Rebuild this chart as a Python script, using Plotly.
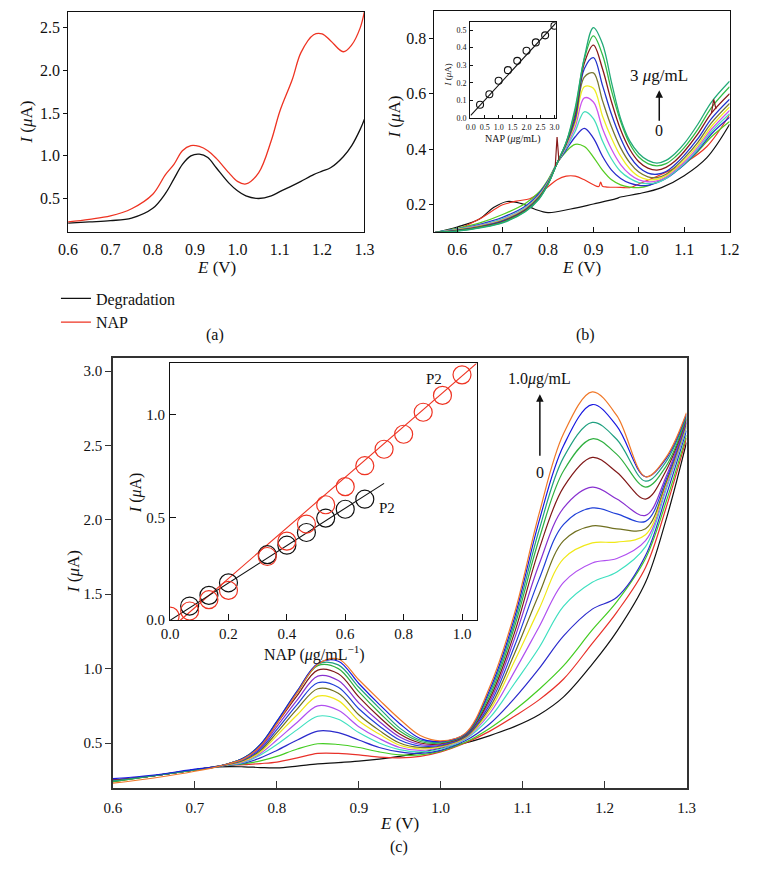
import plotly.graph_objects as go

# The page body keeps the browser's default 8 px margin, so the figure is made
# 16 px smaller than the window and every position is shifted by that margin.
WIN_W, WIN_H = 759, 872
OFF = 8
FW, FH = WIN_W - 2 * OFF, WIN_H - 2 * OFF
FONT = "Liberation Serif, Times New Roman, DejaVu Serif, serif"


def px(x):
    return (x - OFF) / FW


def py(y):
    return 1 - (y - OFF) / FH


# ---------------- Panel (a) data ----------------
E_A = [0.60, 0.65, 0.70, 0.75, 0.80, 0.83, 0.85, 0.87, 0.89, 0.91, 0.93, 0.95, 0.98, 1.00,
       1.02, 1.05, 1.08, 1.10, 1.13, 1.15, 1.18, 1.20, 1.22, 1.25, 1.27, 1.29, 1.30]
DEG_A = [0.21, 0.225, 0.24, 0.27, 0.385, 0.56, 0.73, 0.90, 1.00, 1.02, 0.98, 0.86, 0.68, 0.59,
         0.53, 0.50, 0.53, 0.58, 0.65, 0.70, 0.78, 0.82, 0.86, 0.99, 1.12, 1.31, 1.43]
NAP_A = [0.225, 0.255, 0.295, 0.38, 0.55, 0.78, 0.90, 1.06, 1.12, 1.11, 1.06, 0.97, 0.80, 0.70,
         0.67, 0.80, 1.18, 1.52, 1.90, 2.21, 2.42, 2.43, 2.35, 2.22, 2.30, 2.50, 2.69]

# ---------------- Panel (b) data ----------------
E_B = [0.55, 0.60, 0.65, 0.70, 0.75, 0.78, 0.80, 0.82, 0.84, 0.86, 0.88, 0.90, 0.92, 0.94,
       0.96, 0.98, 1.00, 1.02, 1.04, 1.06, 1.08, 1.10, 1.13, 1.16, 1.20]
B_CURVES = [
    [0.100, 0.115, 0.135, 0.165, 0.205, 0.245, 0.290, 0.350, 0.392, 0.418, 0.410, 0.372, 0.325, 0.290,
     0.272, 0.264, 0.262, 0.268, 0.282, 0.298, 0.320, 0.345, 0.392, 0.445, 0.500],
    [0.100, 0.113, 0.130, 0.155, 0.195, 0.240, 0.285, 0.350, 0.398, 0.445, 0.475, 0.440, 0.375, 0.325,
     0.295, 0.278, 0.270, 0.270, 0.280, 0.295, 0.318, 0.345, 0.395, 0.455, 0.515],
    [0.100, 0.112, 0.127, 0.150, 0.190, 0.235, 0.282, 0.350, 0.405, 0.465, 0.535, 0.510, 0.430, 0.365,
     0.320, 0.295, 0.280, 0.276, 0.280, 0.295, 0.320, 0.348, 0.400, 0.463, 0.528],
    [0.100, 0.111, 0.125, 0.147, 0.187, 0.232, 0.280, 0.350, 0.410, 0.480, 0.585, 0.570, 0.475, 0.400,
     0.345, 0.310, 0.290, 0.283, 0.286, 0.300, 0.325, 0.353, 0.407, 0.472, 0.540],
    [0.100, 0.110, 0.123, 0.145, 0.185, 0.230, 0.278, 0.350, 0.415, 0.495, 0.625, 0.620, 0.520, 0.440,
     0.375, 0.330, 0.302, 0.291, 0.292, 0.305, 0.330, 0.360, 0.415, 0.482, 0.552],
    [0.100, 0.109, 0.122, 0.143, 0.183, 0.228, 0.277, 0.350, 0.418, 0.505, 0.660, 0.675, 0.575, 0.480,
     0.405, 0.352, 0.318, 0.301, 0.298, 0.310, 0.336, 0.368, 0.425, 0.495, 0.565],
    [0.100, 0.108, 0.120, 0.141, 0.181, 0.226, 0.276, 0.350, 0.420, 0.515, 0.690, 0.730, 0.630, 0.525,
     0.440, 0.375, 0.335, 0.314, 0.310, 0.320, 0.345, 0.378, 0.438, 0.510, 0.580],
    [0.100, 0.107, 0.119, 0.139, 0.179, 0.224, 0.275, 0.350, 0.422, 0.528, 0.710, 0.775, 0.690, 0.570,
     0.470, 0.400, 0.355, 0.332, 0.325, 0.335, 0.358, 0.392, 0.455, 0.530, 0.600],
    [0.100, 0.106, 0.118, 0.137, 0.177, 0.222, 0.274, 0.350, 0.424, 0.540, 0.725, 0.808, 0.740, 0.610,
     0.500, 0.420, 0.372, 0.348, 0.340, 0.348, 0.372, 0.406, 0.472, 0.550, 0.625],
    [0.100, 0.105, 0.117, 0.135, 0.175, 0.220, 0.273, 0.350, 0.425, 0.550, 0.730, 0.838, 0.780, 0.640,
     0.510, 0.430, 0.385, 0.360, 0.350, 0.360, 0.385, 0.420, 0.490, 0.570, 0.645],
]
B_COLORS = ["#55cc22", "#2a2acc", "#44ddbb", "#cc55ee", "#eeee22", "#777733",
            "#2233cc", "#881a1a", "#33bb44", "#22aa77"]
E_B_BLACK = [0.55, 0.60, 0.65, 0.68, 0.71, 0.74, 0.77, 0.80, 0.85, 0.90, 0.95, 0.96, 1.00, 1.05,
             1.10, 1.15, 1.20]
I_B_BLACK = [0.10, 0.12, 0.15, 0.19, 0.212, 0.205, 0.185, 0.172, 0.185, 0.203, 0.222, 0.228, 0.24,
             0.262, 0.305, 0.37, 0.49]
E_B_RED = [0.55, 0.60, 0.65, 0.70, 0.73, 0.76, 0.78, 0.80, 0.82, 0.84, 0.86, 0.88, 0.90, 0.912,
           0.916, 0.92, 0.93, 0.96, 0.98, 1.00, 1.05, 1.10, 1.15, 1.20]
I_B_RED = [0.10, 0.112, 0.15, 0.20, 0.213, 0.222, 0.24, 0.265, 0.29, 0.303, 0.303, 0.29, 0.272, 0.266,
           0.282, 0.267, 0.264, 0.263, 0.262, 0.275, 0.31, 0.35, 0.41, 0.525]
SPIKE1_E = [0.816, 0.820, 0.824]
SPIKE1_I = [0.34, 0.444, 0.36]
SPIKE2_E = [1.160, 1.165, 1.170]
SPIKE2_I = [0.530, 0.580, 0.545]

INS_B_X = [0.333, 0.667, 1.0, 1.333, 1.667, 2.0, 2.333, 2.667, 3.0]
INS_B_Y = [0.075, 0.135, 0.212, 0.272, 0.325, 0.382, 0.43, 0.47, 0.525]
FIT_B_X = [0.0, 3.05]
FIT_B_Y = [0.015, 0.54]

# ---------------- Panel (c) data ----------------
E_C = [0.60, 0.65, 0.70, 0.73, 0.76, 0.78, 0.80, 0.825, 0.85, 0.875, 0.90, 0.925, 0.95, 0.975,
       1.00, 1.03, 1.06, 1.09, 1.12, 1.15, 1.185, 1.215, 1.25, 1.275, 1.30]
C_CURVES = [
    [0.25, 0.28, 0.32, 0.34, 0.34, 0.335, 0.333, 0.345, 0.36, 0.368, 0.378, 0.392, 0.41, 0.435,
     0.465, 0.50, 0.55, 0.61, 0.69, 0.81, 1.03, 1.25, 1.58, 2.00, 2.52],
    [0.245, 0.28, 0.32, 0.345, 0.355, 0.362, 0.372, 0.40, 0.43, 0.43, 0.42, 0.405, 0.40, 0.41,
     0.44, 0.50, 0.58, 0.68, 0.79, 0.93, 1.17, 1.38, 1.68, 2.08, 2.55],
    [0.245, 0.28, 0.32, 0.345, 0.36, 0.38, 0.41, 0.46, 0.495, 0.49, 0.47, 0.44, 0.42, 0.42,
     0.445, 0.505, 0.60, 0.72, 0.86, 1.02, 1.26, 1.45, 1.74, 2.12, 2.57],
    [0.25, 0.28, 0.32, 0.345, 0.365, 0.40, 0.45, 0.52, 0.58, 0.57, 0.52, 0.47, 0.44, 0.43,
     0.45, 0.515, 0.63, 0.80, 1.00, 1.22, 1.40, 1.48, 1.76, 2.16, 2.60],
    [0.245, 0.28, 0.32, 0.345, 0.37, 0.42, 0.49, 0.59, 0.68, 0.66, 0.57, 0.50, 0.455, 0.44,
     0.46, 0.525, 0.67, 0.90, 1.14, 1.42, 1.58, 1.65, 1.82, 2.20, 2.62],
    [0.245, 0.28, 0.32, 0.345, 0.375, 0.43, 0.52, 0.64, 0.75, 0.72, 0.61, 0.53, 0.47, 0.45,
     0.47, 0.53, 0.70, 0.98, 1.28, 1.58, 1.71, 1.74, 1.86, 2.22, 2.63],
    [0.24, 0.28, 0.32, 0.345, 0.38, 0.44, 0.55, 0.69, 0.815, 0.785, 0.65, 0.56, 0.485, 0.46,
     0.475, 0.535, 0.72, 1.05, 1.40, 1.74, 1.845, 1.85, 1.90, 2.24, 2.64],
    [0.24, 0.28, 0.32, 0.345, 0.385, 0.45, 0.57, 0.73, 0.865, 0.835, 0.69, 0.585, 0.50, 0.47,
     0.48, 0.54, 0.74, 1.10, 1.50, 1.86, 1.96, 1.94, 1.94, 2.25, 2.65],
    [0.25, 0.28, 0.32, 0.345, 0.39, 0.46, 0.59, 0.76, 0.905, 0.875, 0.73, 0.615, 0.52, 0.48,
     0.485, 0.545, 0.76, 1.15, 1.60, 1.97, 2.08, 2.04, 1.99, 2.27, 2.66],
    [0.25, 0.28, 0.32, 0.345, 0.395, 0.47, 0.61, 0.79, 0.95, 0.92, 0.77, 0.645, 0.54, 0.49,
     0.49, 0.55, 0.78, 1.20, 1.70, 2.08, 2.22, 2.14, 2.03, 2.29, 2.67],
    [0.25, 0.28, 0.32, 0.345, 0.40, 0.48, 0.63, 0.82, 0.99, 0.965, 0.81, 0.675, 0.56, 0.50,
     0.495, 0.55, 0.80, 1.24, 1.80, 2.22, 2.42, 2.32, 2.14, 2.33, 2.68],
    [0.24, 0.28, 0.32, 0.345, 0.40, 0.49, 0.64, 0.84, 1.02, 1.00, 0.845, 0.705, 0.58, 0.51,
     0.50, 0.555, 0.82, 1.28, 1.87, 2.33, 2.545, 2.44, 2.22, 2.36, 2.69],
    [0.245, 0.28, 0.32, 0.345, 0.40, 0.49, 0.645, 0.85, 1.03, 1.025, 0.875, 0.735, 0.60, 0.52,
     0.505, 0.56, 0.84, 1.31, 1.93, 2.42, 2.655, 2.54, 2.26, 2.39, 2.70],
    [0.26, 0.285, 0.325, 0.345, 0.40, 0.49, 0.645, 0.85, 1.035, 1.05, 0.90, 0.76, 0.63, 0.53,
     0.51, 0.56, 0.86, 1.34, 1.99, 2.50, 2.775, 2.63, 2.29, 2.41, 2.71],
    [0.23, 0.265, 0.31, 0.345, 0.395, 0.48, 0.63, 0.84, 1.03, 1.065, 0.925, 0.79, 0.66, 0.55,
     0.515, 0.565, 0.88, 1.37, 2.04, 2.58, 2.86, 2.70, 2.29, 2.42, 2.72],
]
C_COLORS = ["#111111", "#e8312a", "#44cc22", "#2a2acc", "#3ee0c0", "#b050f0", "#f0e818",
            "#707020", "#2040d8", "#8830d0", "#801818", "#30b040", "#20a080", "#1818e0", "#f07828"]

INS_C_RED_X = [0.0, 0.067, 0.133, 0.2, 0.333, 0.4, 0.467, 0.533, 0.6, 0.667, 0.733, 0.8, 0.867, 0.933, 1.0]
INS_C_RED_Y = [0.02, 0.045, 0.10, 0.145, 0.31, 0.385, 0.468, 0.562, 0.65, 0.752, 0.832, 0.905, 1.012, 1.094, 1.194]
INS_C_BLK_X = [0.067, 0.133, 0.2, 0.333, 0.4, 0.467, 0.533, 0.6, 0.667]
INS_C_BLK_Y = [0.069, 0.121, 0.182, 0.319, 0.365, 0.427, 0.497, 0.54, 0.589]
FIT_C_RED_X = [0.035, 1.05]
FIT_C_RED_Y = [0.0, 1.25]
FIT_C_BLK_X = [0.0, 0.733]
FIT_C_BLK_Y = [0.0, 0.666]

fig = go.Figure()

# (a)
fig.add_trace(go.Scatter(x=E_A, y=DEG_A, mode="lines", name="Degradation",
                         line=dict(color="#111111", width=1.3, shape="spline"),
                         xaxis="x", yaxis="y", showlegend=True))
fig.add_trace(go.Scatter(x=E_A, y=NAP_A, mode="lines", name="NAP",
                         line=dict(color="#ee3322", width=1.3, shape="spline"),
                         xaxis="x", yaxis="y", showlegend=True))

# (b)
fig.add_trace(go.Scatter(x=E_B_BLACK, y=I_B_BLACK, mode="lines", showlegend=False,
                         line=dict(color="#111111", width=1.2, shape="spline"), xaxis="x2", yaxis="y2"))
fig.add_trace(go.Scatter(x=E_B_RED, y=I_B_RED, mode="lines", showlegend=False,
                         line=dict(color="#ee3322", width=1.2, shape="spline"), xaxis="x2", yaxis="y2"))
for vals, col in zip(B_CURVES, B_COLORS):
    fig.add_trace(go.Scatter(x=E_B, y=vals, mode="lines", showlegend=False,
                             line=dict(color=col, width=1.3, shape="spline"), xaxis="x2", yaxis="y2"))
for se, si in ((SPIKE1_E, SPIKE1_I), (SPIKE2_E, SPIKE2_I)):
    fig.add_trace(go.Scatter(x=se, y=si, mode="lines", showlegend=False,
                             line=dict(color="#881a1a", width=1.2), xaxis="x2", yaxis="y2"))

# (b) inset
fig.add_trace(go.Scatter(x=FIT_B_X, y=FIT_B_Y, mode="lines", showlegend=False,
                         line=dict(color="#111111", width=1.1), xaxis="x3", yaxis="y3"))
fig.add_trace(go.Scatter(x=INS_B_X, y=INS_B_Y, mode="markers", showlegend=False,
                         marker=dict(symbol="circle-open", size=7, color="#111111", line=dict(width=1.1)),
                         xaxis="x3", yaxis="y3"))

# (c)
for vals, col in zip(C_CURVES, C_COLORS):
    fig.add_trace(go.Scatter(x=E_C, y=vals, mode="lines", showlegend=False,
                             line=dict(color=col, width=1.2, shape="spline"), xaxis="x4", yaxis="y4"))

# (c) inset
fig.add_trace(go.Scatter(x=FIT_C_RED_X, y=FIT_C_RED_Y, mode="lines", showlegend=False,
                         line=dict(color="#ee3322", width=1.1), xaxis="x5", yaxis="y5"))
fig.add_trace(go.Scatter(x=FIT_C_BLK_X, y=FIT_C_BLK_Y, mode="lines", showlegend=False,
                         line=dict(color="#111111", width=1.1), xaxis="x5", yaxis="y5"))
fig.add_trace(go.Scatter(x=INS_C_BLK_X, y=INS_C_BLK_Y, mode="markers", showlegend=False,
                         marker=dict(symbol="circle-open", size=18, color="#111111", line=dict(width=1.2)),
                         xaxis="x5", yaxis="y5"))
fig.add_trace(go.Scatter(x=INS_C_RED_X, y=INS_C_RED_Y, mode="markers", showlegend=False,
                         marker=dict(symbol="circle-open", size=18, color="#ee3322", line=dict(width=1.2)),
                         xaxis="x5", yaxis="y5"))


def ax(domain, rng, tickvals, fmt, ticks, ticklen, size, anchor, lc="#111111", lw=1, standoff=None):
    d = dict(domain=domain, range=rng, tickvals=tickvals,
             ticktext=[fmt.format(v) for v in tickvals],
             ticks=ticks, ticklen=ticklen, tickwidth=1, tickcolor=lc,
             showline=True, mirror=True, linecolor=lc, linewidth=lw,
             showgrid=False, zeroline=False, anchor=anchor,
             tickfont=dict(family=FONT, size=size, color="#111111"))
    if standoff is not None:
        d["ticklabelstandoff"] = standoff
    return d


fig.update_layout(
    width=FW, height=FH, margin=dict(l=0, r=0, t=0, b=0),
    paper_bgcolor="white", plot_bgcolor="white",
    font=dict(family=FONT, color="#111111"),
    xaxis=ax([px(59.5), px(364)], [0.6, 1.3], [0.6, 0.7, 0.8, 0.9, 1.0, 1.1, 1.2, 1.3], "{:.1f}",
             "", 0, 16, "y", standoff=3),
    yaxis=ax([py(234.3), py(11.7)], [0.105, 2.69], [0.5, 1.0, 1.5, 2.0, 2.5], "{:.1f}",
             "outside", 4, 16, "x"),
    xaxis2=ax([px(436), px(739.3)], [0.55, 1.2], [0.6, 0.7, 0.8, 0.9, 1.0, 1.1, 1.2], "{:.1f}",
              "inside", 5, 16, "y2", standoff=3),
    yaxis2=ax([py(234), py(10.7)], [0.1025, 0.899], [0.2, 0.4, 0.6, 0.8], "{:.1f}",
              "outside", 4, 16, "x2"),
    xaxis3=ax([px(472.7), px(560.7)], [-0.02, 3.05], [0.0, 0.5, 1.0, 1.5, 2.0, 2.5, 3.0], "{:.1f}",
              "inside", 3, 8, "y3", standoff=1),
    yaxis3=ax([py(119), py(22.3)], [0.0, 0.545], [0.0, 0.1, 0.2, 0.3, 0.4, 0.5], "{:.1f}",
              "inside", 3, 8, "x3", standoff=1),
    xaxis4=ax([px(105.6), px(695)], [0.6, 1.3], [0.6, 0.7, 0.8, 0.9, 1.0, 1.1, 1.2, 1.3], "{:.1f}",
              "inside", 7, 15, "y4", lc="#333333", lw=1.5, standoff=6),
    yaxis4=ax([py(795), py(361)], [0.2, 3.09], [0.5, 1.0, 1.5, 2.0, 2.5, 3.0], "{:.1f}",
              "outside", 6, 15, "x4", lc="#333333", lw=1.5),
    xaxis5=ax([px(164.3), px(479.3)], [0.0, 1.05], [0.0, 0.2, 0.4, 0.6, 0.8, 1.0], "{:.1f}",
              "inside", 6, 15, "y5", standoff=0),
    yaxis5=ax([py(626), py(366.7)], [0.0, 1.25], [0.0, 0.5, 1.0], "{:.1f}",
              "inside", 6, 15, "x5", standoff=1),
    legend=dict(x=px(47), y=py(284), xanchor="left", yanchor="top",
                bgcolor="rgba(0,0,0,0)", font=dict(family=FONT, size=16, color="#111111"),
                tracegroupgap=0, itemwidth=30),
)


def txt(x, y, s, size, angle=0, color="#111111", xanchor="center"):
    fig.add_annotation(x=px(x), y=py(y), xref="paper", yref="paper", text=s, showarrow=False,
                       textangle=angle, xanchor=xanchor, yanchor="middle",
                       font=dict(family=FONT, size=size, color=color))


IMU = "<i>I</i> (<i>μ</i>A)"
EV = "<i>E</i> (V)"
txt(17, 123, IMU, 17, angle=-90)
txt(212, 270, EV, 17)
txt(210, 338, "(a)", 16)
txt(395, 118, IMU, 17, angle=-90)
txt(587, 270, EV, 17)
txt(591, 338, "(b)", 16)
txt(450, 76, IMU, 9, angle=-90)
txt(517, 140, "NAP (<i>μ</i>g/mL)", 10)
txt(667, 76, "3 <i>μ</i>g/mL", 17)
txt(667, 132, "0", 16)
txt(65, 577, IMU, 17, angle=-90)
txt(400, 831, EV, 17)
txt(400, 855, "(c)", 16)
txt(130, 497, IMU, 16, angle=-90)
txt(313, 660, "NAP (<i>μ</i>g/mL<sup>−1</sup>)", 16)
txt(544, 382, "1.0<i>μ</i>g/mL", 16)
txt(544, 477, "0", 16)
txt(435, 383, "P2", 15)
txt(387, 513, "P2", 15)

# arrows
fig.add_annotation(x=px(667), y=py(91), xref="paper", yref="paper", text="", showarrow=True,
                   ax=0, ay=32, arrowhead=2, arrowsize=1, arrowwidth=1.5, arrowcolor="#111111")
fig.add_annotation(x=px(544.3), y=py(398), xref="paper", yref="paper", text="", showarrow=True,
                   ax=0, ay=63, arrowhead=2, arrowsize=1, arrowwidth=1.5, arrowcolor="#111111")

fig.write_html("out.html", config={"displayModeBar": False})
